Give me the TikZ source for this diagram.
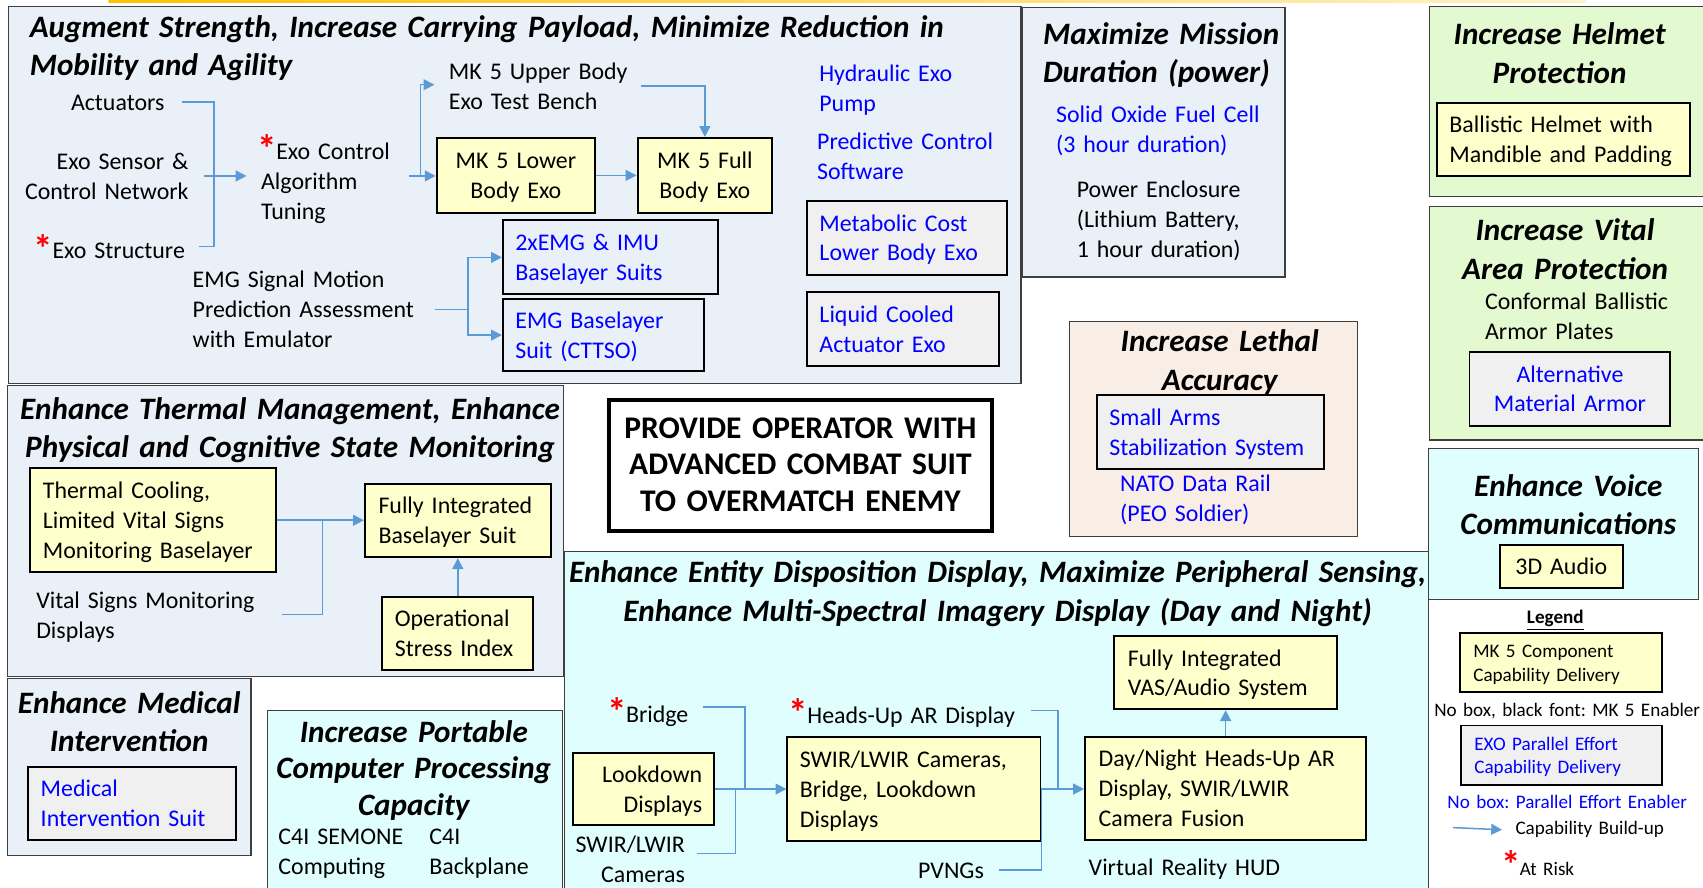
\documentclass[tikz,border=0pt]{standalone}
\usepackage{fontspec}
\setmainfont{Carlito}
\usetikzlibrary{arrows.meta,calc}

\definecolor{panelblue}{HTML}{EAF0F8}
\definecolor{panelgreen}{HTML}{E3F9D0}
\definecolor{panelcyan}{HTML}{E0FEFE}
\definecolor{panelpeach}{HTML}{F9EEE6}
\definecolor{boxyellow}{HTML}{FFFFCC}
\definecolor{boxgray}{HTML}{F0F0F0}
\definecolor{enabler}{HTML}{0000FF}
\definecolor{flow}{HTML}{5B9BD5}
\definecolor{edge}{HTML}{3F3F3F}
\definecolor{stripA}{HTML}{FFC000}
\definecolor{stripB}{HTML}{FFF2C8}

\newcommand\bodyfont{\fontsize{11}{13.75}\selectfont}
\newcommand\headfont{\fontsize{14.35}{17.75}\selectfont\bfseries\itshape}
\newcommand\keyfont{\fontsize{8.8}{10.75}\selectfont}
\newcommand\goalfont{\fontsize{14.5}{17}\selectfont\bfseries}
\newcommand\riskmark{\makebox[7pt][l]{\kern-1.6pt\raisebox{-1.6pt}{\textcolor{red}{\fontsize{18}{18}\selectfont\bfseries *}}}}
\frenchspacing

\begin{document}
\begin{tikzpicture}[x=0.5pt, y=-0.5pt,
  panel/.style={draw=edge, line width=0.6pt},
  txt/.style={inner sep=0pt, font=\bodyfont, text width=230pt, align=left, yshift=-1pt,
    execute at begin node=\strut, execute at end node=\strut},
  head/.style={inner sep=0pt, font=\headfont, text width=520pt, align=center, yshift=-1.5pt,
    execute at begin node=\strut, execute at end node=\strut},
  blu/.style={text=enabler},
  cellbox/.style={draw=black, line width=0.9pt, inner sep=0pt},
  yelbox/.style={cellbox, fill=boxyellow},
  grybox/.style={cellbox, fill=boxgray},
  outbox/.style={cellbox},
  conn/.style={draw=flow, line width=0.7pt},
  arr/.style={conn, -{Triangle[length=5pt, width=5pt]}},
]
\useasboundingbox (0,0) rectangle (1568,817);
\clip (0,0) rectangle (1568,817);

% thin accent strip along the top edge
\shade[left color=stripA, right color=stripB] (100,0) rectangle (1460,2.5);

% ---------- panels ----------
\draw[panel, fill=panelblue]  (8,6) rectangle (940,353);
\draw[panel, fill=panelblue]  (941,7) rectangle (1183,255);
\draw[panel, fill=panelgreen] (1316,6) rectangle (1580,181);
\draw[panel, fill=panelgreen] (1316,190) rectangle (1580,405);
\draw[panel, fill=panelcyan]  (1315,413) rectangle (1564,552);
\draw[panel, fill=panelpeach] (985,296) rectangle (1250,494);
\draw[panel, fill=panelblue]  (7,355) rectangle (519,623);
\draw[panel, fill=panelblue]  (7,625) rectangle (231,788);
\draw[panel, fill=panelcyan]  (246,654) rectangle (518,830);
\draw[panel, fill=panelcyan]  (520,508) rectangle (1315,830);

% ---------- strength / payload ----------
\node[head, anchor=west, align=left] (hStrength) at (27,42)
  {Augment Strength, Increase Carrying Payload, Minimize Reduction in\\Mobility and Agility};
\node[txt, anchor=west] (actuators) at (65,94) {Actuators};
\node[txt, anchor=east, align=right] (sensor) at (174,162) {Exo Sensor \&\\Control Network};
\node[txt, anchor=west] (structure) at (34,229) {\riskmark Exo Structure};
\node[txt, anchor=west] (tuning) at (240,165) {\riskmark Exo Control\\Algorithm\\Tuning};
\node[txt, anchor=west] (upper) at (413,79.5) {MK 5 Upper Body\\Exo Test Bench};
\node[yelbox, minimum width=73pt, minimum height=34.5pt] (lower) at (475,161.5) {};
\node[txt, align=center] (lowerT) at (lower) {MK 5 Lower\\Body Exo};
\node[yelbox, minimum width=62pt, minimum height=34.5pt] (fullexo) at (649,161.5) {};
\node[txt, align=center] (fullexoT) at (fullexo) {MK 5 Full\\Body Exo};
\node[txt, anchor=west] (emgsig) at (177,285) {EMG Signal Motion\\Prediction Assessment\\with Emulator};
\node[outbox, minimum width=99pt, minimum height=34pt] (emgtwo) at (562,237) {};
\node[txt, blu, anchor=west] (emgtwoT) at ([xshift=6pt]emgtwo.west) {2xEMG \& IMU\\Baselayer Suits};
\node[outbox, minimum width=92.5pt, minimum height=33.5pt] (emgbase) at (555.5,308.5) {};
\node[txt, blu, anchor=west] (emgbaseT) at ([xshift=6pt]emgbase.west) {EMG Baselayer\\Suit (CTTSO)};
\node[txt, blu, anchor=west] (hydraulic) at (754,81) {Hydraulic Exo\\Pump};
\node[txt, blu, anchor=west] (predictive) at (752,144) {Predictive Control\\Software};
\node[grybox, minimum width=92pt, minimum height=34pt] (metabolic) at (835,219) {};
\node[txt, blu, anchor=west] (metabolicT) at ([xshift=6pt]metabolic.west) {Metabolic Cost\\Lower Body Exo};
\node[grybox, minimum width=88.5pt, minimum height=34pt] (liquid) at (831.5,303) {};
\node[txt, blu, anchor=west] (liquidT) at ([xshift=6pt]liquid.west) {Liquid Cooled\\Actuator Exo};

\coordinate (actEnd) at (168,94);
\coordinate (actBend) at (197,94);
\coordinate (strBend) at (197,227);
\coordinate (strEnd) at (183,227);
\coordinate (senEnd) at (188,162);
\coordinate (algoIn) at (227,162);
\coordinate (tunOut) at (376.5,162);
\coordinate (upSplit) at (387,162);
\coordinate (upIn) at (400,78);
\coordinate (upOut) at (590,79);
\coordinate (emgOut) at (400.5,285);
\coordinate (emgSplit) at (431,285);

\draw[conn] (actEnd) -- (actBend) -- (strBend) -- (strEnd);
\draw[arr] (senEnd) -- (algoIn);
\draw[arr] (tunOut) -- (tunOut -| lower.west);
\draw[arr] (upSplit) |- (upIn);
\draw[arr] (upOut) -| (fullexo.north);
\draw[arr] (lower.east) -- (lower.east -| fullexo.west);
\draw[conn] (emgOut) -- (emgSplit);
\draw[arr] (emgSplit) |- (emgtwo.west);
\draw[arr] (emgSplit) |- (emgbase.west);

% ---------- mission duration ----------
\node[head, anchor=west, align=left] (hPower) at (960,48.5) {Maximize Mission\\Duration (power)};
\node[txt, blu, anchor=west] (sofc) at (972,119) {Solid Oxide Fuel Cell\\(3 hour duration)};
\node[txt, anchor=west] (enclosure) at (991,202) {Power Enclosure\\(Lithium Battery,\\1 hour duration)};

% ---------- helmet ----------
\node[head] (hHelmet) at (1436,49) {Increase Helmet\\Protection};
\node[yelbox, minimum width=116.5pt, minimum height=33.5pt] (helmet) at (1439.5,128.5) {};
\node[txt, anchor=west] (helmetT) at ([xshift=6pt]helmet.west) {Ballistic Helmet with\\Mandible and Padding};

% ---------- vital area ----------
\node[head] (hVital) at (1441,229.5) {Increase Vital\\Area Protection};
\node[txt, anchor=west] (plates) at (1367,291.5) {Conformal Ballistic\\Armor Plates};
\node[grybox, minimum width=92.5pt, minimum height=34pt] (armor) at (1445.5,358) {};
\node[txt, blu, align=center] (armorT) at (armor) {Alternative\\Material Armor};

% ---------- voice ----------
\node[head] (hVoice) at (1444,464.5) {Enhance Voice\\Communications};
\node[yelbox, minimum width=56.5pt, minimum height=19.5pt] (audio) at (1437.5,521.5) {};
\node[txt, align=center] (audioT) at (audio) {3D Audio};

% ---------- legend ----------
\node[txt, align=center, font=\keyfont\bfseries] (legendT) at (1432,568) {\underline{Legend}};
\node[yelbox, minimum width=93pt, minimum height=27pt] (keyA) at (1437,610) {};
\node[txt, font=\keyfont, anchor=west] (keyAT) at ([xshift=6.5pt]keyA.west) {MK 5 Component\\Capability Delivery};
\node[txt, font=\keyfont, align=center] (keyB) at (1443,653) {No box, black font: MK 5 Enabler};
\node[grybox, minimum width=92.5pt, minimum height=27.5pt] (keyC) at (1437.5,695.5) {};
\node[txt, font=\keyfont, blu, anchor=west] (keyCT) at ([xshift=6.5pt]keyC.west) {EXO Parallel Effort\\Capability Delivery};
\node[txt, font=\keyfont, blu, align=center] (keyD) at (1443,738) {No box: Parallel Effort Enabler};
\node[txt, font=\keyfont, anchor=west] (keyE) at (1395,762) {Capability Build-up};
\node[txt, font=\keyfont, anchor=west] (keyF) at (1385,796) {\riskmark At Risk};
\coordinate (keyArrow) at (1338,762);
\draw[arr] (keyArrow) -- ([xshift=-6pt]keyE.west);

% ---------- lethal accuracy ----------
\node[head] (hLethal) at (1123,331.5) {Increase Lethal\\Accuracy};
\node[grybox, minimum width=104.5pt, minimum height=34pt] (smallarms) at (1114.5,398) {};
\node[txt, blu, anchor=west] (smallarmsT) at ([xshift=6pt]smallarms.west) {Small Arms\\Stabilization System};
\node[txt, blu, anchor=west] (natorail) at (1031,458.5) {NATO Data Rail\\(PEO Soldier)};

% ---------- overall goal ----------
\node[draw=black, line width=1.8pt, fill=white, minimum width=176pt, minimum height=60.5pt, inner sep=0pt] (goal) at (737,428.5) {};
\node[txt, align=center, font=\goalfont] (goalT) at (goal) {PROVIDE OPERATOR WITH\\ADVANCED COMBAT SUIT\\TO OVERMATCH ENEMY};

% ---------- thermal / state monitoring ----------
\node[head] (hThermal) at (267,393.5) {Enhance Thermal Management, Enhance\\Physical and Cognitive State Monitoring};
\node[yelbox, minimum width=113pt, minimum height=48pt] (cooling) at (141,479) {};
\node[txt, anchor=west] (coolingT) at ([xshift=6pt]cooling.west) {Thermal Cooling,\\Limited Vital Signs\\Monitoring Baselayer};
\node[txt, anchor=west] (vitalsigns) at (33,566.5) {Vital Signs Monitoring\\Displays};
\node[yelbox, minimum width=85.5pt, minimum height=33.5pt] (baselayer) at (421.5,479.5) {};
\node[txt, anchor=west] (baselayerT) at ([xshift=6.5pt]baselayer.west) {Fully Integrated\\Baselayer Suit};
\node[yelbox, minimum width=69.5pt, minimum height=33.5pt] (stress) at (421.5,583.5) {};
\node[txt, anchor=west] (stressT) at ([xshift=6pt]stress.west) {Operational\\Stress Index};

\coordinate (vsEnd) at (260,566);
\coordinate (thJoin) at (297,479);
\draw[arr] (cooling.east) -- (cooling.east -| baselayer.west);
\draw[conn] (vsEnd) -| (thJoin);
\draw[arr] (stress.north) -- (baselayer.south);

% ---------- medical ----------
\node[head] (hMedical) at (119,664.5) {Enhance Medical\\Intervention};
\node[grybox, minimum width=95.5pt, minimum height=33.5pt] (medsuit) at (121.5,739.5) {};
\node[txt, blu, anchor=west] (medsuitT) at ([xshift=6pt]medsuit.west) {Medical\\Intervention Suit};

% ---------- computing ----------
\node[head, font=\fontsize{14.35}{16.75}\selectfont\bfseries\itshape] (hCompute) at (381,707.5) {Increase Portable\\Computer Processing\\Capacity};
\node[txt, anchor=west] (semone) at (256,784) {C4I SEMONE\\Computing};
\node[txt, anchor=west] (backplane) at (395,784) {C4I\\Backplane};

% ---------- displays / sensing ----------
\node[head] (hDisplay) at (918.5,544) {Enhance Entity Disposition Display, Maximize Peripheral Sensing,\\Enhance Multi-Spectral Imagery Display (Day and Night)};
\node[yelbox, minimum width=102.5pt, minimum height=33.5pt] (vas) at (1128.5,619.5) {};
\node[txt, anchor=west] (vasT) at ([xshift=6.5pt]vas.west) {Fully Integrated\\VAS/Audio System};
\node[txt, anchor=west] (bridge) at (562,656) {\riskmark Bridge};
\node[yelbox, minimum width=64.5pt, minimum height=33.5pt] (lookdown) at (592.5,726.5) {};
\node[txt, anchor=east, align=right] (lookdownT) at ([xshift=-5.5pt]lookdown.east) {Lookdown\\Displays};
\node[txt, anchor=east, align=right] (swirlwir) at (631,791.5) {SWIR/LWIR\\Cameras};
\node[yelbox, minimum width=116.5pt, minimum height=47.5pt] (sensors) at (841.5,726.5) {};
\node[txt, anchor=west] (sensorsT) at ([xshift=6pt]sensors.west) {SWIR/LWIR Cameras,\\Bridge, Lookdown\\Displays};
\node[txt, anchor=west] (headsup) at (729,657) {\riskmark Heads-Up AR Display};
\node[txt, anchor=west] (pvngs) at (845,801) {PVNGs};
\node[yelbox, minimum width=129.5pt, minimum height=47pt] (fusion) at (1128.5,726) {};
\node[txt, anchor=west] (fusionT) at ([xshift=6.5pt]fusion.west) {Day/Night Heads-Up AR\\Display, SWIR/LWIR\\Camera Fusion};
\node[txt, anchor=west] (vrhud) at (1002,799) {Virtual Reality HUD};

\coordinate (brEnd) at (647,651);
\coordinate (brJoin) at (686,726);
\coordinate (swEnd) at (642,786);
\coordinate (swJoin) at (677,726);
\coordinate (huEnd) at (949,654);
\coordinate (huJoin) at (974,726);
\coordinate (pvEnd) at (920,801);
\coordinate (pvJoin) at (959,726);

\draw[conn] (brEnd) -| (brJoin);
\draw[conn] (swEnd) -| (swJoin);
\draw[arr] (lookdown.east) -- (lookdown.east -| sensors.west);
\draw[conn] (huEnd) -| (huJoin);
\draw[conn] (pvEnd) -| (pvJoin);
\draw[arr] (sensors.east) -- (sensors.east -| fusion.west);
\draw[arr] (fusion.north) -- (vas.south);
\end{tikzpicture}
\end{document}
